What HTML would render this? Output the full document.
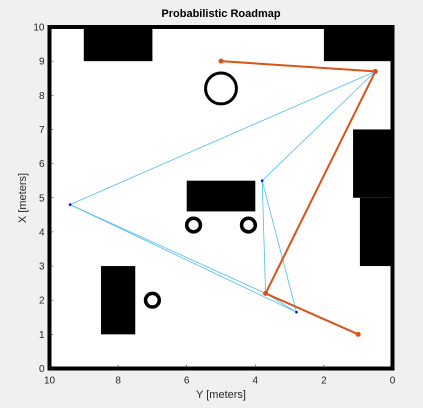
<!DOCTYPE html>
<html><head><meta charset="utf-8"><style>
body{margin:0;background:#f0f0f0;}
svg{display:block;font-family:"Liberation Sans",sans-serif;}
</style></head><body>
<svg id="c" width="423" height="408"></svg>
<script>
const xTicks=[10,8,6,4,2,0];
const yTicks=[0,1,2,3,4,5,6,7,8,9,10];
// obstacles: [y0,y1,x0,x1] in meters (Y horizontal, X vertical)
const rects=[[7,9,9,10],[0,2,9,10],[0,1.15,5,7],[0,0.95,3,5],[4,6,4.6,5.5],[7.5,8.5,1,3]];
const rings=[[5,8.2,0.45,3],[5.8,4.2,0.2,3.5],[4.2,4.2,0.2,3.5],[7,2,0.2,3.5]];
const nodeY=[5,0.5,3.7,1,3.8,9.4,2.8];
const nodeX=[9,8.7,2.2,1,5.5,4.8,1.65];
const edges=[[1,5],[1,4],[4,2],[4,6],[5,2],[5,6],[2,6]];
const path=[0,1,2,3];
const L=49.5,R=392.5,T=27,B=368.5;
const sx=v=>L+(10-v)*(R-L)/10, sy=v=>B-v*(B-T)/10;
const s=document.getElementById('c'),NS='http://www.w3.org/2000/svg';
function mk(t,a,p){const e=document.createElementNS(NS,t);for(const k in a)e.setAttribute(k,a[k]);(p||s).appendChild(e);return e;}
let e=mk('rect',{x:L,y:T,width:R-L,height:B-T,fill:'#fff',stroke:'#000','stroke-width':4});

rects.forEach(r=>{const o=mk('rect',{x:sx(r[1]),y:sy(r[3]),width:sx(r[0])-sx(r[1]),height:sy(r[2])-sy(r[3]),fill:'#000'});
});
rings.forEach(r=>{const o=mk('circle',{cx:sx(r[0]),cy:sy(r[1]),r:r[2]*34.3,fill:'none',stroke:'#000','stroke-width':r[3]});
});
edges.forEach(g=>{const o=mk('line',{x1:sx(nodeY[g[0]]),y1:sy(nodeX[g[0]]),x2:sx(nodeY[g[1]]),y2:sy(nodeX[g[1]]),stroke:'#4dbeee','stroke-width':0.8});
});
nodeY.forEach((v,i)=>{const o=mk('circle',{cx:sx(v),cy:sy(nodeX[i]),r:1.3,fill:'#0000ff'});
});
const pts=path.map(i=>sx(nodeY[i])+','+sy(nodeX[i])).join(' ');
e=mk('polyline',{points:pts,fill:'none',stroke:'#d95319','stroke-width':2});

path.forEach(i=>{const o=mk('circle',{cx:sx(nodeY[i]),cy:sy(nodeX[i]),r:2.5,fill:'#d95319'});
});
xTicks.forEach(v=>{mk('line',{x1:sx(v),y1:B,x2:sx(v),y2:B-4,stroke:'#262626','stroke-width':0.5});
const t=mk('text',{x:sx(v),y:B+15,'font-size':10,'text-anchor':'middle',fill:'#262626'});t.textContent=v;
});
yTicks.forEach(v=>{mk('line',{x1:L,y1:sy(v),x2:L+4,y2:sy(v),stroke:'#262626','stroke-width':0.5});
const t=mk('text',{x:L-5,y:sy(v)+3.5,'font-size':10,'text-anchor':'end',fill:'#262626'});t.textContent=v;
});
let t=mk('text',{x:221,y:17,'font-size':11,'font-weight':'bold','text-anchor':'middle',fill:'#000'});t.textContent='Probabilistic Roadmap';

t=mk('text',{x:221,y:398,'font-size':11,'text-anchor':'middle',fill:'#262626'});t.textContent='Y [meters]';

t=mk('text',{x:0,y:0,'font-size':11,'text-anchor':'middle',fill:'#262626',transform:'translate(26,198) rotate(-90)'});t.textContent='X [meters]';

</script>
</body></html>
